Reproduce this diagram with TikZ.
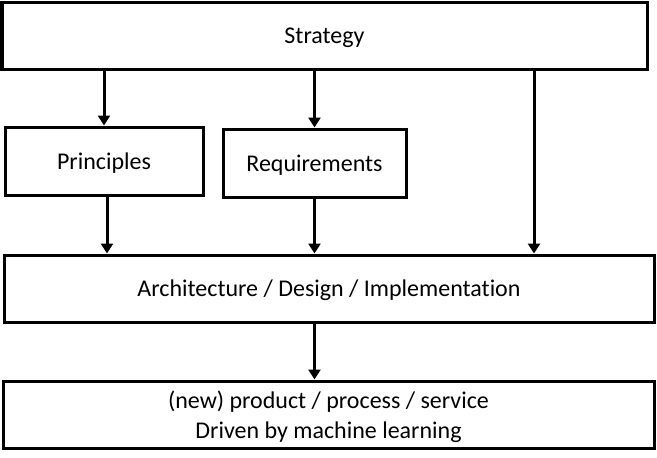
\documentclass[tikz,border=0pt]{standalone}
\usepackage{fontspec}
\setmainfont{Carlito}[Ligatures=NoCommon]
\usetikzlibrary{arrows.meta}
\begin{document}
\begin{tikzpicture}[x=1pt,y=-1pt,
  txt/.style={font=\fontsize{24}{30}\selectfont, align=center, inner sep=0pt, yshift=-2pt},
  box/.style={draw, line width=3pt, rectangle, inner sep=0pt, label={[txt]center:#1}},
  arr/.style={line width=3pt, -{Triangle[width=12pt,length=10pt]}}]
\useasboundingbox (0,0) rectangle (657,458);
\node[box={Strategy}, minimum width=645pt, minimum height=67pt] (s) at (324.5,35.5) {};
\node[box={Principles}, minimum width=198pt, minimum height=68pt] (p) at (104,161) {};
\node[box={Requirements}, minimum width=183pt, minimum height=68pt] (r) at (314.5,163) {};
\node[box={Architecture / Design / Implementation}, minimum width=650pt, minimum height=67pt] (a) at (329,288.5) {};
\node[box={(new) product / process / service\\Driven by machine learning}, minimum width=651pt, minimum height=67pt] (b) at (328.5,414.5) {};
\coordinate (sa) at (534,0);
\coordinate (pa) at (107,0);
\coordinate (ab) at (314.5,0);
\draw[arr] (p.north |- s.south) -- (p.north);
\draw[arr] (r.north |- s.south) -- (r.north);
\draw[arr] (sa |- s.south) -- (sa |- a.north);
\draw[arr] (pa |- p.south) -- (pa |- a.north);
\draw[arr] (r.south) -- (r.south |- a.north);
\draw[arr] (ab |- a.south) -- (ab |- b.north);
\end{tikzpicture}
\end{document}
